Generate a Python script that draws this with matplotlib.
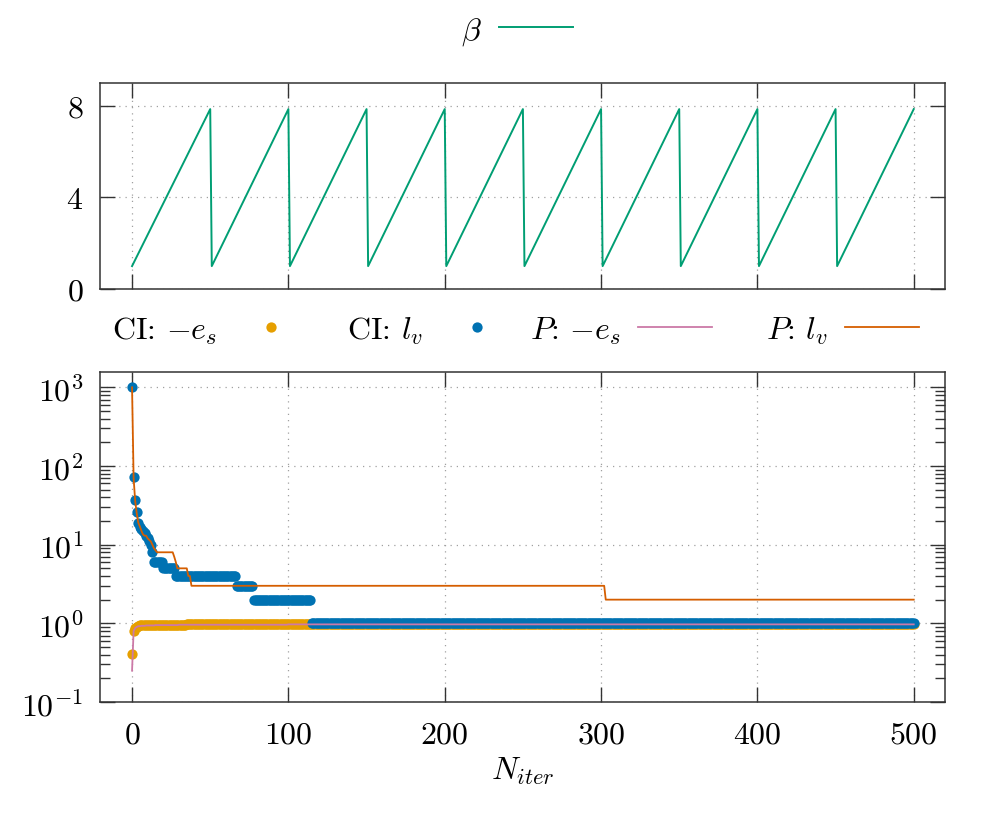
import numpy as np
import matplotlib
matplotlib.use("Agg")
import matplotlib.pyplot as plt
from matplotlib.ticker import FixedLocator, LogLocator, NullFormatter, NullLocator

plt.rcParams.update({
    "font.family": "serif",
    "font.serif": ["cmr10"],
    "mathtext.fontset": "cm",
    "axes.formatter.use_mathtext": True,
    "axes.unicode_minus": False,
    "font.size": 23,
})

# ---- top panel: beta sawtooth (vertices) ----
beta_x = [0, 50, 51, 100, 101, 150, 151, 200, 201, 250,
          251, 300, 301, 350, 351, 400, 401, 450, 451, 500]
beta_y = [1, 7.86, 1, 7.86, 1, 7.86, 1, 7.86, 1, 7.86,
          1, 7.86, 1, 7.86, 1, 7.86, 1, 7.86, 1, 7.86]

# ---- bottom panel: per-iteration values, run-length encoded (value, count) ----
n_iter = np.arange(0, 501)

ci_es_vals = [0.41, 0.80, 0.88, 0.91, 0.93, 0.94, 0.95, 0.96, 0.97, 0.98]
ci_es_counts = [1, 1, 1, 1, 1, 3, 7, 20, 80, 386]

ci_lv_vals = [1000, 73, 37, 26, 19, 17, 16, 15, 14, 13, 12, 11, 10, 8,
              6, 5, 4, 3, 2, 1]
ci_lv_counts = [1, 1, 1, 1, 1, 1, 1, 1, 1, 1, 1, 1, 1, 1,
                6, 8, 39, 11, 37, 386]

p_es_vals = [0.25, 0.80, 0.87, 0.90, 0.92, 0.93, 0.94, 0.95, 0.96, 0.97]
p_es_counts = [1, 1, 1, 1, 2, 3, 6, 15, 70, 401]

p_lv_vals = [1000, 70, 36, 25, 19, 17, 15, 13.5, 13, 13, 12, 11.5, 11, 10,
             9, 8.5, 8, 7, 6, 5, 5, 4, 3, 2]
p_lv_counts = [1, 1, 1, 1, 1, 1, 1, 1, 1, 1, 1, 1, 1, 1,
               1, 1, 11, 1, 1, 1, 6, 2, 265, 198]

ci_es = np.repeat(ci_es_vals, ci_es_counts)
ci_lv = np.repeat(ci_lv_vals, ci_lv_counts)
p_es = np.repeat(p_es_vals, p_es_counts)
p_lv = np.repeat(p_lv_vals, p_lv_counts)

C_GREEN = "#009E73"
C_ORANGE = "#E69F00"
C_BLUE = "#0072B2"
C_PINK = "#CC79A7"
C_VERM = "#D55E00"
FRAME = "#333333"
GRID = "#a0a0a0"

W, H = 996, 829
fig = plt.figure(figsize=(W / 100, H / 100), dpi=100)

def fpos(l, t, r, b):
    return [l / W, 1 - b / H, (r - l) / W, (b - t) / H]

ax1 = fig.add_axes(fpos(100, 84, 945, 290))
ax2 = fig.add_axes(fpos(100, 372.7, 945, 703))

def style(ax):
    for s in ax.spines.values():
        s.set_color(FRAME)
        s.set_linewidth(1.1)
    ax.tick_params(which="both", direction="in", top=True, right=True,
                   color=FRAME, width=1.0)
    ax.tick_params(which="major", length=10.5)
    ax.tick_params(axis="y", which="major", pad=12)
    ax.tick_params(axis="x", which="major", pad=14)
    ax.tick_params(which="minor", length=7.5)
    ax.grid(True, which="major", linestyle=(0, (1, 4)), color=GRID, linewidth=0.9)
    ax.set_axisbelow(True)

# top panel
ax1.plot(beta_x, beta_y, color=C_GREEN, lw=1.4, label=r"$\beta$")
ax1.set_xlim(-20.5, 520)
ax1.set_ylim(0, 9)
ax1.xaxis.set_major_locator(FixedLocator([0, 100, 200, 300, 400, 500]))
ax1.yaxis.set_major_locator(FixedLocator([0, 4, 8]))
ax1.set_xticklabels([])
style(ax1)

# bottom panel
ax2.plot(n_iter, ci_es, linestyle="none", marker="o", ms=7.4, color=C_ORANGE,
         markeredgewidth=0, label=r"CI: $-e_s$")
ax2.plot(n_iter, ci_lv, linestyle="none", marker="o", ms=7.4, color=C_BLUE,
         markeredgewidth=0, label=r"CI: $l_v$")
ax2.plot(n_iter, p_es, color=C_PINK, lw=1.3, label=r"$P$: $-e_s$")
ax2.plot(n_iter, p_lv, color=C_VERM, lw=1.3, label=r"$P$: $l_v$")
ax2.set_yscale("log")
ax2.set_xlim(-20.5, 520)
ax2.set_ylim(0.1, 1580)
ax2.xaxis.set_major_locator(FixedLocator([0, 100, 200, 300, 400, 500]))
ax2.yaxis.set_major_locator(LogLocator(base=10, numticks=10))
ax2.yaxis.set_minor_locator(LogLocator(base=10, subs=np.arange(2, 10), numticks=20))
ax2.yaxis.set_minor_formatter(NullFormatter())
ax2.xaxis.set_minor_locator(NullLocator())
ax2.set_xlabel(r"$N_{iter}$", labelpad=4)
style(ax2)

# legends
h1, l1 = ax1.get_legend_handles_labels()
fig.legend(h1, l1, loc="center", bbox_to_anchor=(517 / W, 1 - 32 / H),
           frameon=False, markerfirst=False, handlelength=2.3, handletextpad=0.55)

h2, l2 = ax2.get_legend_handles_labels()
entry_left_px = [112, 347, 530, 766]
for h, l, xl in zip(h2, l2, entry_left_px):
    fig.legend([h], [l], loc="center left", bbox_to_anchor=(xl / W, 1 - 331 / H),
               frameon=False, markerfirst=False, handlelength=2.3,
               handletextpad=0.55, borderpad=0, borderaxespad=0,
               markerscale=1.0)

fig.savefig("out.png", dpi=100)
